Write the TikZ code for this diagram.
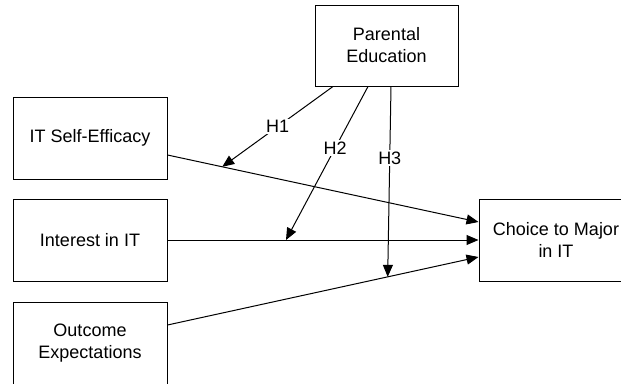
\documentclass[tikz,border=0pt]{standalone}
\usepackage{fontspec}
\setmainfont{Liberation Sans}
\usetikzlibrary{arrows.meta}
\usetikzlibrary{positioning}
\tikzset{box/.style = {draw, line width=1pt, minimum width=154pt, minimum height=82pt,
                       align=center, inner sep=0pt},
         arr/.style = {line width=1pt, -{Triangle[length=12pt, width=10pt]}},
         hyp/.style = {fill=white, inner sep=1.5pt}}

\begin{document}
\begin{tikzpicture}[x=1pt, y=-1pt, font=\fontsize{18}{22}\selectfont]
      \useasboundingbox (0, 0) rectangle (621, 383);

      \node [box, minimum width=143pt, minimum height=81pt] (par) at (386.5, 45.5) {Parental\\Education};
      \node [box] (ise) at (90, 138) {IT Self-Efficacy};
      \node [box] (int) at (90, 240) {Interest in IT};
      \node [box] (out) at (90, 343) {Outcome\\Expectations};
      \node [box] (cho) at (556, 240) {Choice to Major\\in IT};

      % direct paths
      \draw [arr] ([yshift=-17pt]ise.east) -- coordinate [pos=0.176] (m1) ([yshift=18pt]cho.west);
      \draw [arr] (int.east) -- coordinate [pos=0.381] (m2) (cho.west);
      \draw [arr] ([yshift=18pt]out.east) -- coordinate [pos=0.708] (m3) ([yshift=-17pt]cho.west);

      % moderation
      \draw [arr] ([xshift=-53.5pt]par.south) -- node [hyp, pos=0.5] {H1} (m1);
      \draw [arr] ([xshift=-18.5pt]par.south) -- node [hyp, pos=0.4] {H2} (m2);
      \draw [arr] ([xshift=4.5pt]par.south) -- node [hyp, pos=0.377] {H3} (m3);
\end{tikzpicture}
\end{document}
